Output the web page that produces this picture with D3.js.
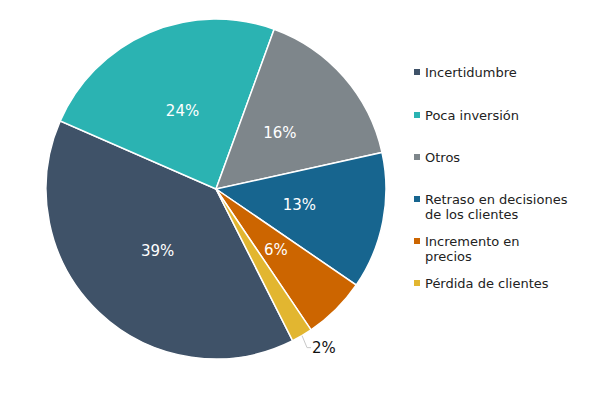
<!DOCTYPE html>
<html>
<head>
<meta charset="utf-8">
<script src="https://cdn.jsdelivr.net/npm/d3@7"></script>
<style>
  body { margin: 0; background: #fff; }
  svg { display: block; font-family: "DejaVu Sans", Verdana, sans-serif; }
</style>
</head>
<body>
<svg id="chart" width="600" height="393"></svg>
<script>
// Chart data
var categories = ["Incertidumbre", "Poca inversión", "Otros", "Retraso en decisiones de los clientes", "Incremento en precios", "Pérdida de clientes"];
var values = [39, 24, 16, 13, 6, 2];
var colors = ["#3f5268", "#2bb3b2", "#7e868b", "#17658f", "#cc6500", "#e2b630"];
// legend labels, split in lines as in the picture
var legendLines = [["Incertidumbre"], ["Poca inversión"], ["Otros"], ["Retraso en decisiones", "de los clientes"], ["Incremento en", "precios"], ["Pérdida de clientes"]];
var legendY = [72, 115, 157, 199, 241, 283];

var svg = d3.select("#chart");
var cx = 216, cy = 189, radius = 170;

var data = categories.map(function(c, i) { return { name: c, value: values[i], color: colors[i] }; });

// Pie layout, first slice starts at about 153 degrees
var start = 153.2 * Math.PI / 180;
var pie = d3.pie().value(d => d.value).sort(null)
  .startAngle(start).endAngle(start + 2 * Math.PI);
var arcs = pie(data);

var arc = d3.arc().innerRadius(0).outerRadius(radius);
var labelArc = d3.arc().innerRadius(radius * 0.5).outerRadius(radius * 0.5);

var g = svg.append("g").attr("transform", "translate(" + cx + "," + cy + ")");

g.selectAll("path")
  .data(arcs)
  .enter()
  .append("path")
    .attr("d", arc)
    .attr("fill", d => d.data.color)
    .attr("stroke", "#fff")
    .attr("stroke-width", 1.5);

// Labels inside the slices (the small one goes outside with a leader line)
arcs.forEach(function(d) {
  if (d.data.value >= 5) {
    var p = labelArc.centroid(d);
    g.append("text")
      .attr("x", p[0]).attr("y", p[1])
      .attr("text-anchor", "middle")
      .attr("dy", "0.35em")
      .attr("fill", "#fff")
      .style("font-size", "15px")
      .text(d.data.value + "%");
  } else {
    var mid = (d.startAngle + d.endAngle) / 2;
    var x0 = Math.sin(mid) * radius, y0 = -Math.cos(mid) * radius;
    var x1 = x0 + 5, y1 = y0 + 12;
    g.append("polyline")
      .attr("points", [[x0, y0], [x1, y1], [x1 + 4, y1]].map(p => p.join(",")).join(" "))
      .attr("fill", "none")
      .attr("stroke", "#c8c8c8")
      .attr("stroke-width", 1);
    g.append("text")
      .attr("x", x1 + 5).attr("y", y1)
      .attr("dy", "0.35em")
      .attr("fill", "#111")
      .style("font-size", "15px")
      .text(d.data.value + "%");
  }
});

// Legend
var legend = svg.append("g");
data.forEach(function(d, i) {
  var y = legendY[i];
  legend.append("rect")
    .attr("x", 414).attr("y", y - 3)
    .attr("width", 6).attr("height", 6)
    .attr("fill", d.color);
  legendLines[i].forEach(function(line, j) {
    legend.append("text")
      .attr("x", 425).attr("y", y + j * 15)
      .attr("dy", "0.35em")
      .attr("fill", "#222")
      .style("font-size", "13px")
      .text(line);
  });
});
</script>
</body>
</html>
